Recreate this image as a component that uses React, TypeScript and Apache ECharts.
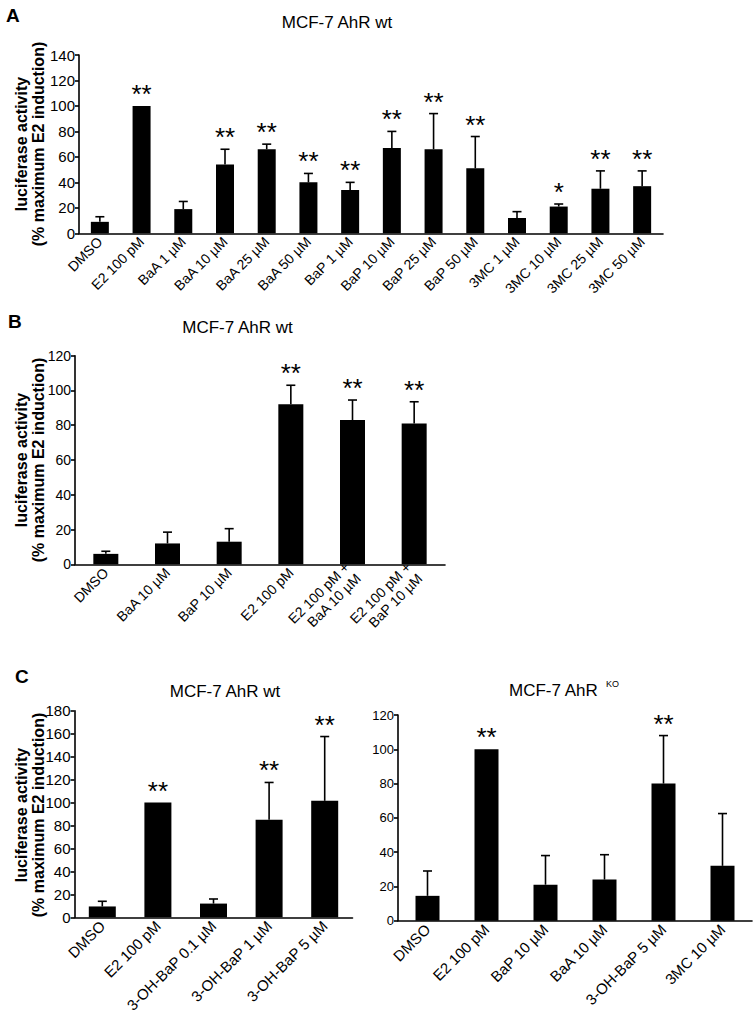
import React, { useEffect, useRef } from "react";
import * as echarts from "echarts";

const FONT = "Liberation Sans, Arial, sans-serif";

const catsA = ["DMSO", "E2 100 pM", "BaA 1 µM", "BaA 10 µM", "BaA 25 µM", "BaA 50 µM", "BaP 1 µM", "BaP 10 µM", "BaP 25 µM", "BaP 50 µM", "3MC 1 µM", "3MC 10 µM", "3MC 25 µM", "3MC 50 µM"];
const valsA = [9, 100, 19, 54, 66, 40, 34, 67, 66, 51, 12, 21, 35, 37];
const errA = [13, 100, 25, 66, 70, 47, 40, 80, 94, 76, 17, 23, 49, 49];
const sigA = ["", "**", "", "**", "**", "**", "**", "**", "**", "**", "", "*", "**", "**"];

const catsB = ["DMSO", "BaA 10 µM", "BaP 10 µM", "E2 100 pM", "E2 100 pM +\nBaA 10 µM", "E2 100 pM +\nBaP 10 µM"];
const valsB = [6, 12, 13, 92, 83, 81];
const errB = [7.5, 18.5, 20.5, 103, 94.5, 93.5];
const sigB = ["", "", "", "**", "**", "**"];

const catsC1 = ["DMSO", "E2 100 pM", "3-OH-BaP 0.1 µM", "3-OH-BaP 1 µM", "3-OH-BaP 5 µM"];
const valsC1 = [9.5, 100, 12, 85, 101.5];
const errC1 = [14, 100, 16, 117.5, 157.5];
const sigC1 = ["", "**", "", "**", "**"];

const catsC2 = ["DMSO", "E2 100 pM", "BaP 10 µM", "BaA 10 µM", "3-OH-BaP 5 µM", "3MC 10 µM"];
const valsC2 = [14.5, 100, 21, 24, 80, 32];
const errC2 = [29, 100, 38, 38.5, 108, 62.5];
const sigC2 = ["", "**", "", "", "**", ""];

const yName1 = "luciferase activity";
const yName2 = "(% maximum E2 induction)";

function makeErr(vals: number[], errs: number[], sigs: string[], ax: number) {
  return {
    type: "custom",
    xAxisIndex: ax,
    yAxisIndex: ax,
    z: 5,
    data: vals.map((v, i) => [i, v, errs[i]]),
    renderItem: (params: any, api: any) => {
      const i = params.dataIndex;
      const base = api.coord([api.value(0), api.value(1)]);
      const top = api.coord([api.value(0), api.value(2)]);
      const children: any[] = [];
      if (top[1] < base[1] - 0.5) {
        children.push({ type: "line", shape: { x1: base[0], y1: base[1], x2: top[0], y2: top[1] }, style: { stroke: "#000", lineWidth: 1.6 } });
        children.push({ type: "line", shape: { x1: top[0] - 4.5, y1: top[1], x2: top[0] + 4.5, y2: top[1] }, style: { stroke: "#000", lineWidth: 1.6 } });
      }
      if (sigs[i]) {
        children.push({ type: "text", x: top[0], y: top[1] - 12, style: { text: sigs[i], fontSize: 26, fontFamily: FONT, fill: "#000", align: "center", verticalAlign: "middle" } });
      }
      return { type: "group", children };
    },
  };
}

function xAx(idx: number, cats: string[], fs: number) {
  return {
    type: "category",
    gridIndex: idx,
    data: cats,
    axisLine: { lineStyle: { color: "#000", width: 1.6 } },
    axisTick: { show: false },
    axisLabel: { rotate: 45, fontSize: fs, color: "#000", fontFamily: FONT, margin: 6, interval: 0, lineHeight: fs + 2 },
  };
}

function yAx(idx: number, max: number, fs: number) {
  return {
    type: "value",
    gridIndex: idx,
    min: 0,
    max,
    interval: 20,
    splitLine: { show: false },
    axisLine: { show: true, lineStyle: { color: "#000", width: 1.6 } },
    axisTick: { show: true, length: 4, lineStyle: { color: "#000", width: 1.6 } },
    axisLabel: { fontSize: fs, color: "#000", fontFamily: FONT, margin: 4 },
  };
}

function bar(vals: number[], ax: number, w: number) {
  return { type: "bar", xAxisIndex: ax, yAxisIndex: ax, data: vals, barWidth: w, itemStyle: { color: "#000" }, z: 3 };
}

function txt(text: string, x: number, y: number, fs: number, bold = false, align = "center", rot = 0) {
  return { type: "text", x, y, rotation: rot, style: { text, fontSize: fs, fontWeight: bold ? "bold" : "normal", fontFamily: FONT, fill: "#000", align, verticalAlign: "middle" } };
}

function yNames(cy: number) {
  return [
    txt(yName1, 21, cy, 16, true, "center", Math.PI / 2),
    txt(yName2, 38.5, cy, 16, true, "center", Math.PI / 2),
  ];
}

export default function App() {
  const ref = useRef<HTMLDivElement>(null);
  useEffect(() => {
    if (!ref.current) return;
    const chart = echarts.init(ref.current, undefined, { renderer: "svg" });
    chart.setOption({
      animation: false,
      backgroundColor: "#fff",
      grid: [
        { left: 79, top: 55, width: 584, height: 178.3 },
        { left: 75, top: 355.7, width: 370, height: 208.6 },
        { left: 74.5, top: 710.7, width: 278, height: 208.6 },
        { left: 398, top: 715, width: 354, height: 205.7 },
      ],
      xAxis: [xAx(0, catsA, 14), xAx(1, catsB, 14), xAx(2, catsC1, 15), xAx(3, catsC2, 15)],
      yAxis: [yAx(0, 140, 15), yAx(1, 120, 14), yAx(2, 180, 15), yAx(3, 120, 13)],
      series: [
        bar(valsA, 0, 18), makeErr(valsA, errA, sigA, 0),
        bar(valsB, 1, 25), makeErr(valsB, errB, sigB, 1),
        bar(valsC1, 2, 27), makeErr(valsC1, errC1, sigC1, 2),
        bar(valsC2, 3, 24), makeErr(valsC2, errC2, sigC2, 3),
      ],
      graphic: [
        txt("A", 6, 15, 19, true, "left"),
        txt("B", 8, 321, 19, true, "left"),
        txt("C", 15, 676.5, 19, true, "left"),
        txt("MCF-7 AhR wt", 337, 22, 17),
        txt("MCF-7 AhR wt", 237.5, 327, 17),
        txt("MCF-7 AhR wt", 225, 691, 17),
        txt("MCF-7 AhR", 509, 690.5, 17, false, "left"),
        txt("KO", 606, 684, 9, false, "left"),
        ...yNames(144),
        ...yNames(460),
        ...yNames(815),
      ],
    });
    return () => chart.dispose();
  }, []);
  return <div ref={ref} style={{ position: "absolute", left: 0, top: 0, width: 755, height: 1016 }} />;
}
